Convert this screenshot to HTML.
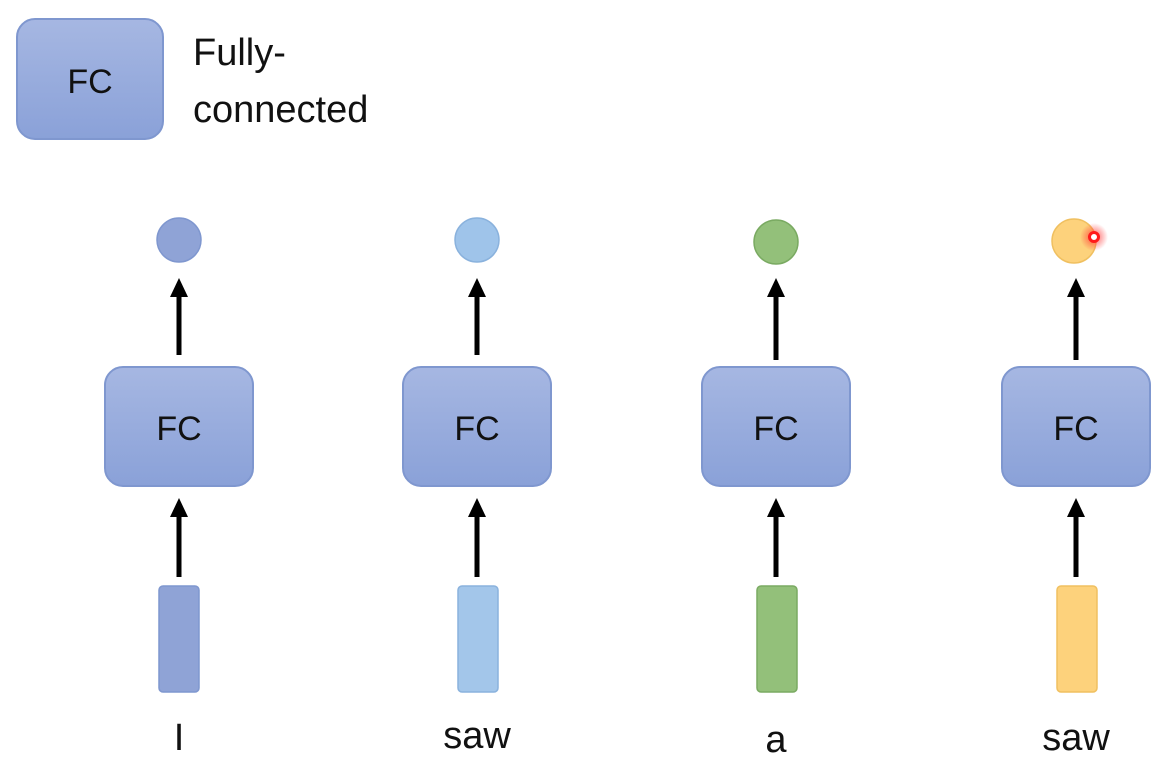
<!DOCTYPE html>
<html><head><style>
body{margin:0;background:#fff;width:1168px;height:769px;overflow:hidden;font-family:"Liberation Sans",sans-serif}
</style></head><body>
<svg width="1168" height="769" xmlns="http://www.w3.org/2000/svg">
<defs>
<linearGradient id="g" x1="0" y1="0" x2="0" y2="1"><stop offset="0" stop-color="#a6b7e2"/><stop offset="1" stop-color="#8aa1d8"/></linearGradient>
<radialGradient id="red"><stop offset="0" stop-color="#ff3030" stop-opacity="0.8"/><stop offset="1" stop-color="#ff3030" stop-opacity="0"/></radialGradient>
</defs>
<rect x="17" y="19" width="146" height="120" rx="18" fill="url(#g)" stroke="#7f97cf" stroke-width="2"/>
<text x="90" y="93" font-size="34" text-anchor="middle" fill="#111">FC</text>
<text x="193" y="65" font-size="38" fill="#111">Fully-</text>
<text x="193" y="122" font-size="38" fill="#111">connected</text>
<g font-size="36" fill="#111" text-anchor="middle">
<g id="c1">
</g>
</g>
<!-- columns -->
<g stroke="#000" stroke-width="5" fill="#000">
<line x1="179" y1="355" x2="179" y2="295"/><line x1="477" y1="355" x2="477" y2="295"/><line x1="776" y1="360" x2="776" y2="295"/><line x1="1076" y1="360" x2="1076" y2="295"/>
<line x1="179" y1="577" x2="179" y2="515"/><line x1="477" y1="577" x2="477" y2="515"/><line x1="776" y1="577" x2="776" y2="515"/><line x1="1076" y1="577" x2="1076" y2="515"/>
</g>
<g fill="#000">
<polygon points="170,297 188,297 179,278"/><polygon points="468,297 486,297 477,278"/><polygon points="767,297 785,297 776,278"/><polygon points="1067,297 1085,297 1076,278"/>
<polygon points="170,517 188,517 179,498"/><polygon points="468,517 486,517 477,498"/><polygon points="767,517 785,517 776,498"/><polygon points="1067,517 1085,517 1076,498"/>
</g>
<g fill="url(#g)" stroke="#7f97cf" stroke-width="2">
<rect x="105" y="367" width="148" height="119" rx="18"/>
<rect x="403" y="367" width="148" height="119" rx="18"/>
<rect x="702" y="367" width="148" height="119" rx="18"/>
<rect x="1002" y="367" width="148" height="119" rx="18"/>
</g>
<g font-size="34" fill="#111" text-anchor="middle">
<text x="179" y="440">FC</text><text x="477" y="440">FC</text><text x="776" y="440">FC</text><text x="1076" y="440">FC</text>
</g>
<circle cx="179" cy="240" r="22" fill="#8fa3d6" stroke="#7f97cf" stroke-width="1.5"/>
<circle cx="477" cy="240" r="22" fill="#9fc4ea" stroke="#8ab2dd" stroke-width="1.5"/>
<circle cx="776" cy="242" r="22" fill="#93c07a" stroke="#7aaa62" stroke-width="1.5"/>
<circle cx="1074" cy="241" r="22" fill="#fdd27c" stroke="#f0c060" stroke-width="1.5"/>
<circle cx="1094" cy="237" r="14" fill="url(#red)"/>
<circle cx="1094" cy="237" r="4.5" fill="#fff" stroke="#ff1a1a" stroke-width="3"/>
<rect x="159" y="586" width="40" height="106" rx="4" fill="#8fa3d6" stroke="#7f97cf" stroke-width="1.5"/>
<rect x="458" y="586" width="40" height="106" rx="4" fill="#a3c6ea" stroke="#8ab2dd" stroke-width="1.5"/>
<rect x="757" y="586" width="40" height="106" rx="4" fill="#93c07a" stroke="#7aaa62" stroke-width="1.5"/>
<rect x="1057" y="586" width="40" height="106" rx="4" fill="#fdd27c" stroke="#f0c060" stroke-width="1.5"/>
<g font-size="38" fill="#111" text-anchor="middle">
<text x="179" y="750">I</text><text x="477" y="748">saw</text><text x="776" y="752">a</text><text x="1076" y="750">saw</text>
</g>
</svg>
</body></html>
